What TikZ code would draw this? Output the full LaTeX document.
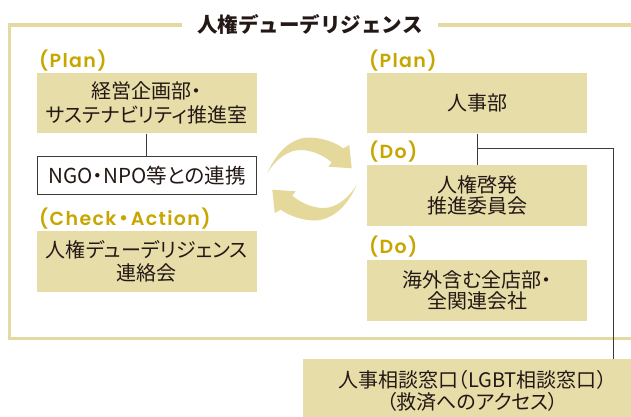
\documentclass[tikz,border=0pt]{standalone}
\usepackage{fontspec}
\setmainfont{Noto Sans CJK JP}
\newfontfamily\bodyf{Noto Sans CJK JP}[RawFeature=+palt]
\newfontfamily\labfont{Poppins}[LetterSpace=7, BoldFont={* SemiBold}]
\definecolor{boxc}{RGB}{230,221,168}
\definecolor{framec}{RGB}{228,217,160}
\definecolor{arrowc}{RGB}{228,216,155}
\definecolor{goldc}{RGB}{199,166,0}
\definecolor{txtc}{RGB}{35,24,21}
\definecolor{linec}{RGB}{60,60,60}
\newcommand\myBody{\bodyf\fontsize{20}{23.3}\selectfont}
\newcommand\myBodyR{\bodyf\fontsize{20}{21.7}\selectfont}
\newcommand\myLab{\labfont\bfseries\fontsize{19}{22}\selectfont}
\tikzset{
  box/.style={fill=boxc, inner sep=0pt, minimum width=220pt, minimum height=60.6pt,
    align=center, font=\myBody, text=txtc},
  rbox/.style={box, font=\myBodyR},
  lab/.style={anchor=west, inner sep=0pt, text=goldc, font=\myLab},
  conn/.style={draw=linec, line width=0.9pt},
  framel/.style={draw=framec, line width=3.8pt},
}
\begin{document}
\begin{tikzpicture}[x=1pt,y=-1pt]
\useasboundingbox (0,0) rectangle (631,417);
\clip (0,0) rectangle (631,417);
% frame
\draw[framel] (181.7,25) -- (9.5,25) -- (9.5,338.5) -- (640,338.5);
\draw[framel] (437.7,25) -- (640,25);
\node[font=\bfseries\fontsize{20.5}{24}\selectfont, text=txtc, inner sep=0pt] (title) at (310,24) {人権デューデリジェンス};
% left column
\node[lab] (lplan) at (39,61) {(Plan)};
\node[box] (b1) at (146.7,103) {経営企画部・\\サステナビリティ推進室};
\node[box, fill=white, draw=linec, line width=0.8pt, minimum width=219pt, minimum height=37.5pt,
  font=\bodyf\fontsize{20.6}{23}\selectfont] (ngo) at (147.2,175.2) {NGO・NPO等との連携};
\node[lab] (lcheck) at (39,219) {(Check\hspace{2.5pt}{\bodyf\bfseries ・}\hspace{2.5pt}Action)};
\node[box] (b3) at (146.7,261.3) {人権デューデリジェンス\\連絡会};
% right column
\node[lab] (rplan) at (369,61) {(Plan)};
\node[rbox] (r1) at (477,103) {人事部};
\node[lab] (rdo1) at (369,152) {(Do)};
\node[rbox] (r2) at (477,195.3) {人権啓発\\推進委員会};
\node[lab] (rdo2) at (369,247) {(Do)};
\node[rbox] (r3) at (477,290.3) {海外含む全店部・\\全関連会社};
\node[rbox, minimum width=339pt, minimum height=63pt] (consult) at (472.5,390.8) {人事相談窓口（LGBT相談窓口）\\（救済へのアクセス）};
% connectors
\draw[conn] (b1.south) -- (b1.south |- ngo.north);
\draw[conn] (r1.south) -- (r2.north);
\coordinate (br) at (477,148.3);
\coordinate (turn) at (613.7,148.3);
\draw[conn] (br) -- (turn) -- (turn |- consult.north);
% cycle arrows
\fill[arrowc] (267.3,173.3) .. controls (278,148) and (295,137) .. (310,137.5)
  .. controls (324,138) and (336,143) .. (343.3,148.3) -- (349.3,145) -- (351.7,168.3)
  -- (328.3,166.7) -- (331.7,162.3) .. controls (322,154) and (310,150) .. (300,150)
  .. controls (288,150) and (275,160) .. cycle;
\fill[arrowc] (356.7,184.7) .. controls (346,210) and (329,220.5) .. (314,220.5)
  .. controls (300,220) and (288,215) .. (280.7,209.7) -- (274.7,213) -- (272.3,189.7)
  -- (295.7,191.3) -- (292.3,195.7) .. controls (302,204) and (314,208) .. (324,208)
  .. controls (336,208) and (349,198) .. cycle;
\end{tikzpicture}
\end{document}
